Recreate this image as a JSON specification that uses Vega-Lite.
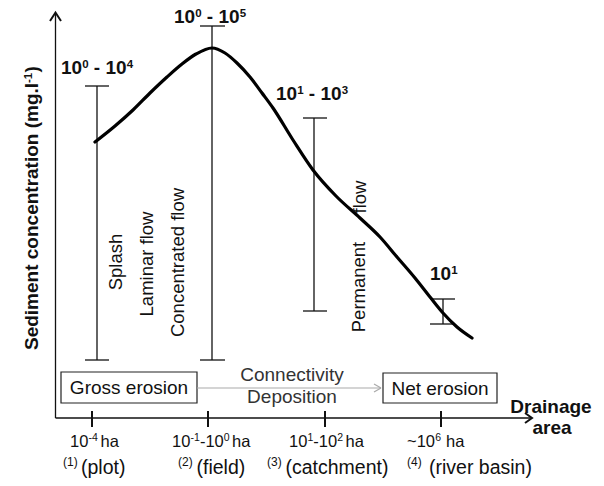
{
  "$schema": "https://vega.github.io/schema/vega-lite/v6.json",
  "width": 604,
  "height": 486,
  "padding": 0,
  "autosize": {"type": "fit", "contains": "padding"},
  "background": "white",
  "config": {"view": {"stroke": null}, "text": {"font": "Liberation Sans", "color": "#111"}},
  "datasets": {
    "curve": [
      {"x": 95, "y": 142}, {"x": 115, "y": 126}, {"x": 133, "y": 110}, {"x": 150, "y": 93}, {"x": 167, "y": 77},
      {"x": 182, "y": 64}, {"x": 196, "y": 54}, {"x": 212, "y": 48}, {"x": 225, "y": 53}, {"x": 237, "y": 63},
      {"x": 250, "y": 77}, {"x": 262, "y": 93}, {"x": 273, "y": 108}, {"x": 293, "y": 140}, {"x": 313, "y": 170},
      {"x": 336, "y": 196}, {"x": 360, "y": 218}, {"x": 380, "y": 237}, {"x": 397, "y": 257}, {"x": 415, "y": 278},
      {"x": 430, "y": 297}, {"x": 443, "y": 313}, {"x": 457, "y": 327}, {"x": 472, "y": 338}
    ],
    "segments": [
      {"x": 55.5, "y": 418, "x2": 55.5, "y2": 13},
      {"x": 55.5, "y": 418, "x2": 531, "y2": 418},
      {"x": 97, "y": 86, "x2": 97, "y2": 360},
      {"x": 85, "y": 86, "x2": 109, "y2": 86},
      {"x": 85, "y": 360, "x2": 109, "y2": 360},
      {"x": 212, "y": 26, "x2": 212, "y2": 360},
      {"x": 200, "y": 26, "x2": 225, "y2": 26},
      {"x": 200, "y": 360, "x2": 225, "y2": 360},
      {"x": 314, "y": 118, "x2": 314, "y2": 311},
      {"x": 303, "y": 118, "x2": 327, "y2": 118},
      {"x": 303, "y": 311, "x2": 327, "y2": 311},
      {"x": 443, "y": 299, "x2": 443, "y2": 324},
      {"x": 430, "y": 299, "x2": 455, "y2": 299},
      {"x": 430, "y": 324, "x2": 455, "y2": 324}
    ],
    "ticks": [
      {"x": 92, "y": 411, "x2": 92, "y2": 427},
      {"x": 208, "y": 411, "x2": 208, "y2": 427},
      {"x": 325, "y": 411, "x2": 325, "y2": 427},
      {"x": 441, "y": 411, "x2": 441, "y2": 427}
    ],
    "heads": [
      {"g": "y", "o": 1, "x": 50, "y": 21}, {"g": "y", "o": 2, "x": 55.5, "y": 12.5}, {"g": "y", "o": 3, "x": 61, "y": 21},
      {"g": "x", "o": 1, "x": 525, "y": 413}, {"g": "x", "o": 2, "x": 532, "y": 418}, {"g": "x", "o": 3, "x": 525, "y": 423}
    ],
    "grayarrow": [
      {"x": 197, "y": 388, "x2": 381, "y2": 388},
      {"x": 374, "y": 384, "x2": 381, "y2": 388},
      {"x": 374, "y": 392, "x2": 381, "y2": 388}
    ],
    "boxes": [
      {"x": 61, "y": 372, "x2": 197, "y2": 403},
      {"x": 383, "y": 373, "x2": 497, "y2": 403}
    ],
    "boxlabels": [
      {"x": 129, "y": 394, "text": "Gross erosion"},
      {"x": 440, "y": 394.5, "text": "Net erosion"}
    ],
    "graytext": [
      {"x": 292, "y": 381, "text": "Connectivity"},
      {"x": 292, "y": 403, "text": "Deposition"}
    ],
    "rangebase": [
      {"x": 61, "y": 74, "text": "10"}, {"x": 93.8, "y": 74, "text": "- 10"},
      {"x": 174, "y": 23, "text": "10"}, {"x": 206.8, "y": 23, "text": "- 10"},
      {"x": 276, "y": 100, "text": "10"}, {"x": 308.8, "y": 100, "text": "- 10"},
      {"x": 430, "y": 280, "text": "10"}
    ],
    "rangesup": [
      {"x": 82.3, "y": 67.5, "text": "0"}, {"x": 126.7, "y": 67.5, "text": "4"},
      {"x": 195.3, "y": 16.5, "text": "0"}, {"x": 239.7, "y": 16.5, "text": "5"},
      {"x": 297.3, "y": 93.5, "text": "1"}, {"x": 341.7, "y": 93.5, "text": "3"},
      {"x": 451.3, "y": 273.5, "text": "1"}
    ],
    "drain": [
      {"x": 551, "y": 413, "text": "Drainage"},
      {"x": 552, "y": 434, "text": "area"}
    ],
    "processes": [
      {"x": 116, "y": 262, "text": "Splash"},
      {"x": 147, "y": 264, "text": "Laminar flow"},
      {"x": 178, "y": 262.5, "text": "Concentrated flow"},
      {"x": 358.5, "y": 287, "text": "Permanent"},
      {"x": 359.5, "y": 197, "text": "flow"}
    ],
    "ytitlebase": [
      {"x": 38, "y": 350, "text": "Sediment concentration (mg.l"},
      {"x": 38, "y": 72.5, "text": ")"}
    ],
    "ytitlesup": [
      {"x": 32, "y": 83, "text": "-1"}
    ],
    "tickbase": [
      {"x": 70, "y": 447, "text": "10"}, {"x": 100.5, "y": 447, "text": "ha"},
      {"x": 172, "y": 447, "text": "10"}, {"x": 199.9, "y": 447, "text": "-10"}, {"x": 232, "y": 447, "text": "ha"},
      {"x": 289, "y": 447, "text": "10"}, {"x": 313.3, "y": 447, "text": "-10"}, {"x": 345.5, "y": 447, "text": "ha"},
      {"x": 407, "y": 447, "text": "~10"}, {"x": 446, "y": 447, "text": "ha"}
    ],
    "ticksup": [
      {"x": 88.5, "y": 441, "text": "-4"},
      {"x": 190.5, "y": 441, "text": "-1"}, {"x": 223.7, "y": 441, "text": "0"},
      {"x": 307.5, "y": 441, "text": "1"}, {"x": 337.2, "y": 441, "text": "2"},
      {"x": 435.2, "y": 441, "text": "6"}
    ],
    "scalebase": [
      {"x": 81, "y": 473.5, "text": "(plot)"},
      {"x": 196.5, "y": 473.5, "text": "(field)"},
      {"x": 285.5, "y": 473.5, "text": "(catchment)"},
      {"x": 429, "y": 473.5, "text": "(river basin)"}
    ],
    "scalesup": [
      {"x": 63, "y": 466, "text": "(1)"},
      {"x": 178, "y": 466, "text": "(2)"},
      {"x": 267, "y": 466, "text": "(3)"},
      {"x": 407, "y": 466, "text": "(4)"}
    ]
  },
  "encoding": {
    "x": {"field": "x", "type": "quantitative", "scale": {"domain": [0, 604], "nice": false, "zero": false}, "axis": null},
    "y": {"field": "y", "type": "quantitative", "scale": {"domain": [0, 486], "nice": false, "zero": false, "reverse": true}, "axis": null}
  },
  "layer": [
    {
      "data": {"name": "boxes"},
      "mark": {"type": "rect", "fill": "white", "stroke": "#222", "strokeWidth": 1.2},
      "encoding": {"x2": {"field": "x2"}, "y2": {"field": "y2"}}
    },
    {
      "data": {"name": "segments"},
      "mark": {"type": "rule", "color": "#111", "strokeWidth": 1.3},
      "encoding": {"x2": {"field": "x2"}, "y2": {"field": "y2"}}
    },
    {
      "data": {"name": "ticks"},
      "mark": {"type": "rule", "color": "#111", "strokeWidth": 2},
      "encoding": {"x2": {"field": "x2"}, "y2": {"field": "y2"}}
    },
    {
      "data": {"name": "heads"},
      "mark": {"type": "line", "color": "#111", "strokeWidth": 2},
      "encoding": {"detail": {"field": "g"}, "order": {"field": "o"}}
    },
    {
      "data": {"name": "grayarrow"},
      "mark": {"type": "rule", "color": "#aaaaaa", "strokeWidth": 1.2},
      "encoding": {"x2": {"field": "x2"}, "y2": {"field": "y2"}}
    },
    {
      "data": {"name": "curve"},
      "mark": {"type": "line", "color": "#000", "strokeWidth": 3.2, "interpolate": "monotone", "strokeCap": "round"},
      "encoding": {}
    },
    {
      "data": {"name": "boxlabels"},
      "mark": {"type": "text", "fontSize": 19, "baseline": "alphabetic"},
      "encoding": {"text": {"field": "text"}}
    },
    {
      "data": {"name": "graytext"},
      "mark": {"type": "text", "fontSize": 19, "baseline": "alphabetic", "color": "#333"},
      "encoding": {"text": {"field": "text"}}
    },
    {
      "data": {"name": "rangebase"},
      "mark": {"type": "text", "fontSize": 19, "fontWeight": "bold", "align": "left", "baseline": "alphabetic"},
      "encoding": {"text": {"field": "text"}}
    },
    {
      "data": {"name": "rangesup"},
      "mark": {"type": "text", "fontSize": 11.5, "fontWeight": "bold", "align": "left", "baseline": "alphabetic"},
      "encoding": {"text": {"field": "text"}}
    },
    {
      "data": {"name": "drain"},
      "mark": {"type": "text", "fontSize": 19, "fontWeight": "bold", "baseline": "alphabetic"},
      "encoding": {"text": {"field": "text"}}
    },
    {
      "data": {"name": "processes"},
      "mark": {"type": "text", "fontSize": 18.5, "angle": 270, "baseline": "middle"},
      "encoding": {"text": {"field": "text"}}
    },
    {
      "data": {"name": "ytitlebase"},
      "mark": {"type": "text", "fontSize": 19, "fontWeight": "bold", "angle": 270, "align": "left", "baseline": "alphabetic"},
      "encoding": {"text": {"field": "text"}}
    },
    {
      "data": {"name": "ytitlesup"},
      "mark": {"type": "text", "fontSize": 11.5, "fontWeight": "bold", "angle": 270, "align": "left", "baseline": "alphabetic"},
      "encoding": {"text": {"field": "text"}}
    },
    {
      "data": {"name": "tickbase"},
      "mark": {"type": "text", "fontSize": 16.5, "align": "left", "baseline": "alphabetic"},
      "encoding": {"text": {"field": "text"}}
    },
    {
      "data": {"name": "ticksup"},
      "mark": {"type": "text", "fontSize": 10.5, "align": "left", "baseline": "alphabetic"},
      "encoding": {"text": {"field": "text"}}
    },
    {
      "data": {"name": "scalebase"},
      "mark": {"type": "text", "fontSize": 19.5, "align": "left", "baseline": "alphabetic"},
      "encoding": {"text": {"field": "text"}}
    },
    {
      "data": {"name": "scalesup"},
      "mark": {"type": "text", "fontSize": 12, "align": "left", "baseline": "alphabetic"},
      "encoding": {"text": {"field": "text"}}
    }
  ]
}
